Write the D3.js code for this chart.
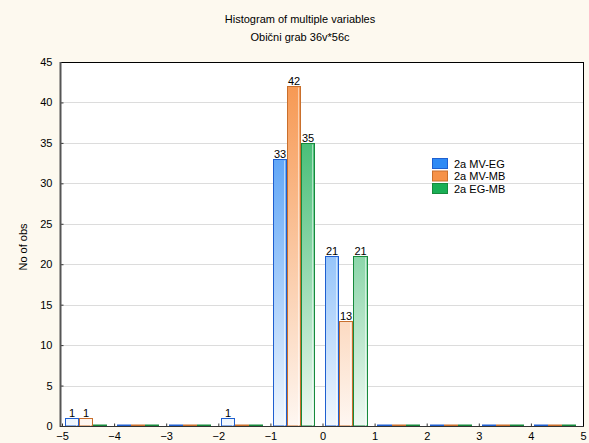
<!DOCTYPE html>
<html><head><meta charset="utf-8">
<script src="https://cdn.jsdelivr.net/npm/d3@7"></script>
<style>body{margin:0;background:#fdf9ef;} svg{display:block;font-family:"Liberation Sans",Arial,sans-serif;}</style>
</head><body>
<script>
const binStarts = [-5,-4,-3,-2,-1,0,1,2,3,4];
const seriesNames = ["2a MV-EG","2a MV-MB","2a EG-MB"];
const mvEG = [1,0,0,1,33,21,0,0,0,0];
const mvMB = [1,0,0,0,42,13,0,0,0,0];
const egMB = [0,0,0,0,35,21,0,0,0,0];
const xTicks = [-5,-4,-3,-2,-1,0,1,2,3,4,5];
const yTicks = [0,5,10,15,20,25,30,35,40,45];
const titleLines = ["Histogram of multiple variables","Obični grab 36v*56c"];
const yTitle = "No of obs";

const series = [mvEG, mvMB, egMB];
const fills = ["#2e8af5","#f69248","#1aae55"];
const strokes = ["#1e5fd0","#c96f2c","#178a3c"];

const W=589,H=443;
const L=60,R=584,T=62,B=426;
const svg=d3.select("body").append("svg").attr("width",W).attr("height",H);
svg.append("rect").attr("width",W).attr("height",H).attr("fill","#fdf9ef");
svg.append("rect").attr("x",L).attr("y",T).attr("width",R-L).attr("height",B-T).attr("fill","#ffffff");

const x=d3.scaleLinear().domain([-5,5]).range([L+2,R-1]);
const y=d3.scaleLinear().domain([0,45]).range([B,T]);

const defs=svg.append("defs");
fills.forEach((c,i)=>{
  const g=defs.append("linearGradient").attr("id","g"+i).attr("gradientUnits","userSpaceOnUse")
    .attr("x1",0).attr("x2",0).attr("y1",y(45)).attr("y2",y(0));
  g.append("stop").attr("offset","0").attr("stop-color",c);
  g.append("stop").attr("offset","1").attr("stop-color",d3.interpolateRgb(c,"#ffffff")(0.93));
});

// gridlines
svg.append("g").selectAll("line").data(yTicks.filter(d=>d>0&&d<45)).join("line")
  .attr("x1",L).attr("x2",R).attr("y1",d=>Math.round(y(d))+0.5).attr("y2",d=>Math.round(y(d))+0.5)
  .attr("stroke","#dcdcdc").attr("stroke-width",1);

// axes
const yAxis=d3.axisLeft(y).tickValues(yTicks).tickSize(-3).tickPadding(8);
const gy=svg.append("g").attr("transform",`translate(${L+0.5},0)`).call(yAxis);
gy.select(".domain").remove();
gy.selectAll("text").attr("font-size",11).attr("fill","#000").attr("font-family","Liberation Sans,Arial,sans-serif");
gy.selectAll("line").attr("stroke","#333");

const xAxis=d3.axisBottom(x).tickValues(xTicks).tickSize(-3).tickPadding(6);
const gx=svg.append("g").attr("transform",`translate(0,${B+0.5})`).call(xAxis);
gx.select(".domain").remove();
gx.selectAll("text").attr("font-size",11).attr("fill","#000").attr("font-family","Liberation Sans,Arial,sans-serif");
gx.selectAll("line").attr("stroke","#333");

// bars
const bw=0.27, off=0.055;
series.forEach((vals,si)=>{
  const g=svg.append("g");
  vals.forEach((v,bi)=>{
    const x0=x(binStarts[bi]+off+si*bw), x1=x(binStarts[bi]+off+(si+1)*bw);
    const xa=Math.round(x0)+0.5, xb=Math.round(x1)-0.5;
    if(v>0){
      const yt=Math.round(y(v))+0.5;
      g.append("rect").attr("x",xa).attr("y",yt).attr("width",xb-xa).attr("height",B-yt)
        .attr("fill",`url(#g${si})`).attr("stroke",strokes[si]).attr("stroke-width",1);
      g.append("line").attr("x1",xb-2).attr("x2",xb-2).attr("y1",yt+1).attr("y2",B)
        .attr("stroke","#ffffff").attr("stroke-opacity",0.5);
      svg.append("text").attr("x",(xa+xb)/2).attr("y",yt-2).attr("text-anchor","middle")
        .attr("font-size",11).attr("fill","#000").text(v);
    } else {
      g.append("line").attr("x1",xa-0.5).attr("x2",xb+0.5).attr("y1",B-0.5).attr("y2",B-0.5)
        .attr("stroke",strokes[si]).attr("stroke-width",2);
    }
  });
});

// frame
svg.append("rect").attr("x",L+0.5).attr("y",T+0.5).attr("width",R-L-1).attr("height",B-T)
  .attr("fill","none").attr("stroke","#000").attr("stroke-width",1);
svg.append("line").attr("x1",L+0.5).attr("x2",L+0.5).attr("y1",T).attr("y2",B+1).attr("stroke","#555").attr("stroke-width",2);
svg.append("line").attr("x1",L).attr("x2",R).attr("y1",B+0.5).attr("y2",B+0.5).attr("stroke","#333").attr("stroke-width",1);

// titles
titleLines.forEach((t,i)=>{
  svg.append("text").attr("x",300).attr("y",23+i*18).attr("text-anchor","middle")
    .attr("font-size",11).attr("fill","#000").text(t);
});
svg.append("text").attr("transform",`translate(27,247) rotate(-90)`).attr("text-anchor","middle")
  .attr("font-size",11).attr("fill","#000").text(yTitle);

// legend
const lg=svg.append("g").attr("transform","translate(432,158)");
seriesNames.forEach((n,i)=>{
  lg.append("rect").attr("x",0.5).attr("y",i*12.5+0.5).attr("width",15).attr("height",10)
    .attr("fill",fills[i]).attr("stroke",strokes[i]);
  lg.append("text").attr("x",22).attr("y",i*12.5+9.5).attr("font-size",11).attr("fill","#000").text(n);
});
</script>
</body></html>
